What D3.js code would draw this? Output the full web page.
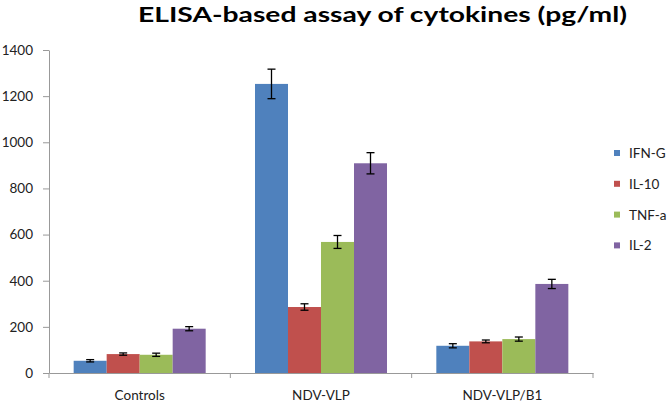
<!DOCTYPE html>
<html>
<head>
<meta charset="utf-8">
<script src="https://cdn.jsdelivr.net/npm/d3@7"></script>
<style>
  html, body { margin: 0; padding: 0; background: #fff; }
  svg { display: block; }
  text { font-family: Lato, "Open Sans", sans-serif; }
</style>
</head>
<body>
<svg id="chart" width="669" height="404"></svg>
<script>
const categories = ["Controls", "NDV-VLP", "NDV-VLP/B1"];
const seriesNames = ["IFN-G", "IL-10", "TNF-a", "IL-2"];
const colors = ["#4F81BD", "#C0504D", "#9BBB59", "#8064A2"];
// values[series][category]
const ifnG  = [53, 1253, 118];
const il10  = [82, 286, 137];
const tnfA  = [79, 568, 147];
const il2   = [192, 909, 386];
const ifnGErr = [5, 64, 9];
const il10Err = [5, 14, 6];
const tnfAErr = [7, 28, 9];
const il2Err  = [9, 46, 20];
const yTicks = [0, 200, 400, 600, 800, 1000, 1200, 1400];
const title = "ELISA-based assay of cytokines (pg/ml)";

const values = [ifnG, il10, tnfA, il2];
const errs = [ifnGErr, il10Err, tnfAErr, il2Err];

const svg = d3.select("#chart");
const mLeft = 49, mRight = 593, mTop = 50, mBottom = 373;
const fontSize = 13.5;

const x0 = d3.scaleBand().domain(categories).range([mLeft, mRight]).padding(0);
const groupW = x0.bandwidth() * 0.728;
const x1 = d3.scaleBand().domain(seriesNames).range([0, groupW]).padding(0);
const y = d3.scaleLinear().domain([0, 1400]).range([mBottom, mTop]);

// title
svg.append("text")
  .attr("x", 382.5).attr("y", 22)
  .attr("text-anchor", "middle")
  .attr("font-size", 21.5).attr("font-weight", "bold")
  .attr("fill", "#000")
  .attr("textLength", 489).attr("lengthAdjust", "spacingAndGlyphs")
  .text(title);

// bars
const groups = svg.append("g").selectAll("g")
  .data(categories).join("g")
  .attr("transform", c => `translate(${x0(c) + (x0.bandwidth() - groupW) / 2},0)`);

seriesNames.forEach((s, si) => {
  groups.append("rect")
    .attr("x", x1(s))
    .attr("width", x1.bandwidth())
    .attr("y", (c, ci) => y(values[si][ci]))
    .attr("height", (c, ci) => y(0) - y(values[si][ci]))
    .attr("fill", colors[si]);
});

// error bars
seriesNames.forEach((s, si) => {
  groups.each(function(c, ci) {
    const g = d3.select(this);
    const cx = x1(s) + x1.bandwidth() / 2;
    const v = values[si][ci], e = errs[si][ci];
    const eg = g.append("g").attr("stroke", "#000").attr("stroke-width", 1.3);
    eg.append("line").attr("x1", cx).attr("x2", cx).attr("y1", y(v + e)).attr("y2", y(v - e));
    eg.append("line").attr("x1", cx - 4).attr("x2", cx + 4).attr("y1", y(v + e)).attr("y2", y(v + e));
    eg.append("line").attr("x1", cx - 4).attr("x2", cx + 4).attr("y1", y(v - e)).attr("y2", y(v - e));
  });
});

// y axis
const yAxis = svg.append("g")
  .attr("transform", `translate(${mLeft},0)`)
  .call(d3.axisLeft(y).tickValues(yTicks).tickFormat(d3.format("d"))
        .tickSize(6).tickPadding(10).tickSizeOuter(0));
yAxis.select(".domain").attr("stroke", "#999");
yAxis.selectAll(".tick line").attr("stroke", "#999");
yAxis.selectAll(".tick text").attr("font-size", fontSize).attr("fill", "#222")
  .attr("font-family", "Lato, 'Open Sans', sans-serif");

// x axis
const xAxis = svg.append("g")
  .attr("transform", `translate(0,${mBottom})`)
  .call(d3.axisBottom(x0).tickSize(0).tickPadding(17));
xAxis.select(".domain").attr("stroke", "#999");
xAxis.selectAll(".tick text").attr("font-size", fontSize).attr("fill", "#222")
  .attr("font-family", "Lato, 'Open Sans', sans-serif");
// category boundary ticks
const bounds = [mLeft].concat(categories.map(c => x0(c) + x0.bandwidth()));
svg.append("g").selectAll("line").data(bounds).join("line")
  .attr("x1", d => d).attr("x2", d => d)
  .attr("y1", mBottom).attr("y2", mBottom + 5)
  .attr("stroke", "#999");

// legend
const legend = svg.append("g");
seriesNames.forEach((s, i) => {
  const ly = 153 + i * 30.8;
  legend.append("rect").attr("x", 614).attr("y", ly - 3).attr("width", 6).attr("height", 6).attr("fill", colors[i]);
  legend.append("text").attr("x", 629).attr("y", ly + 5)
    .attr("font-size", fontSize).attr("fill", "#222").text(s);
});
</script>
</body>
</html>
